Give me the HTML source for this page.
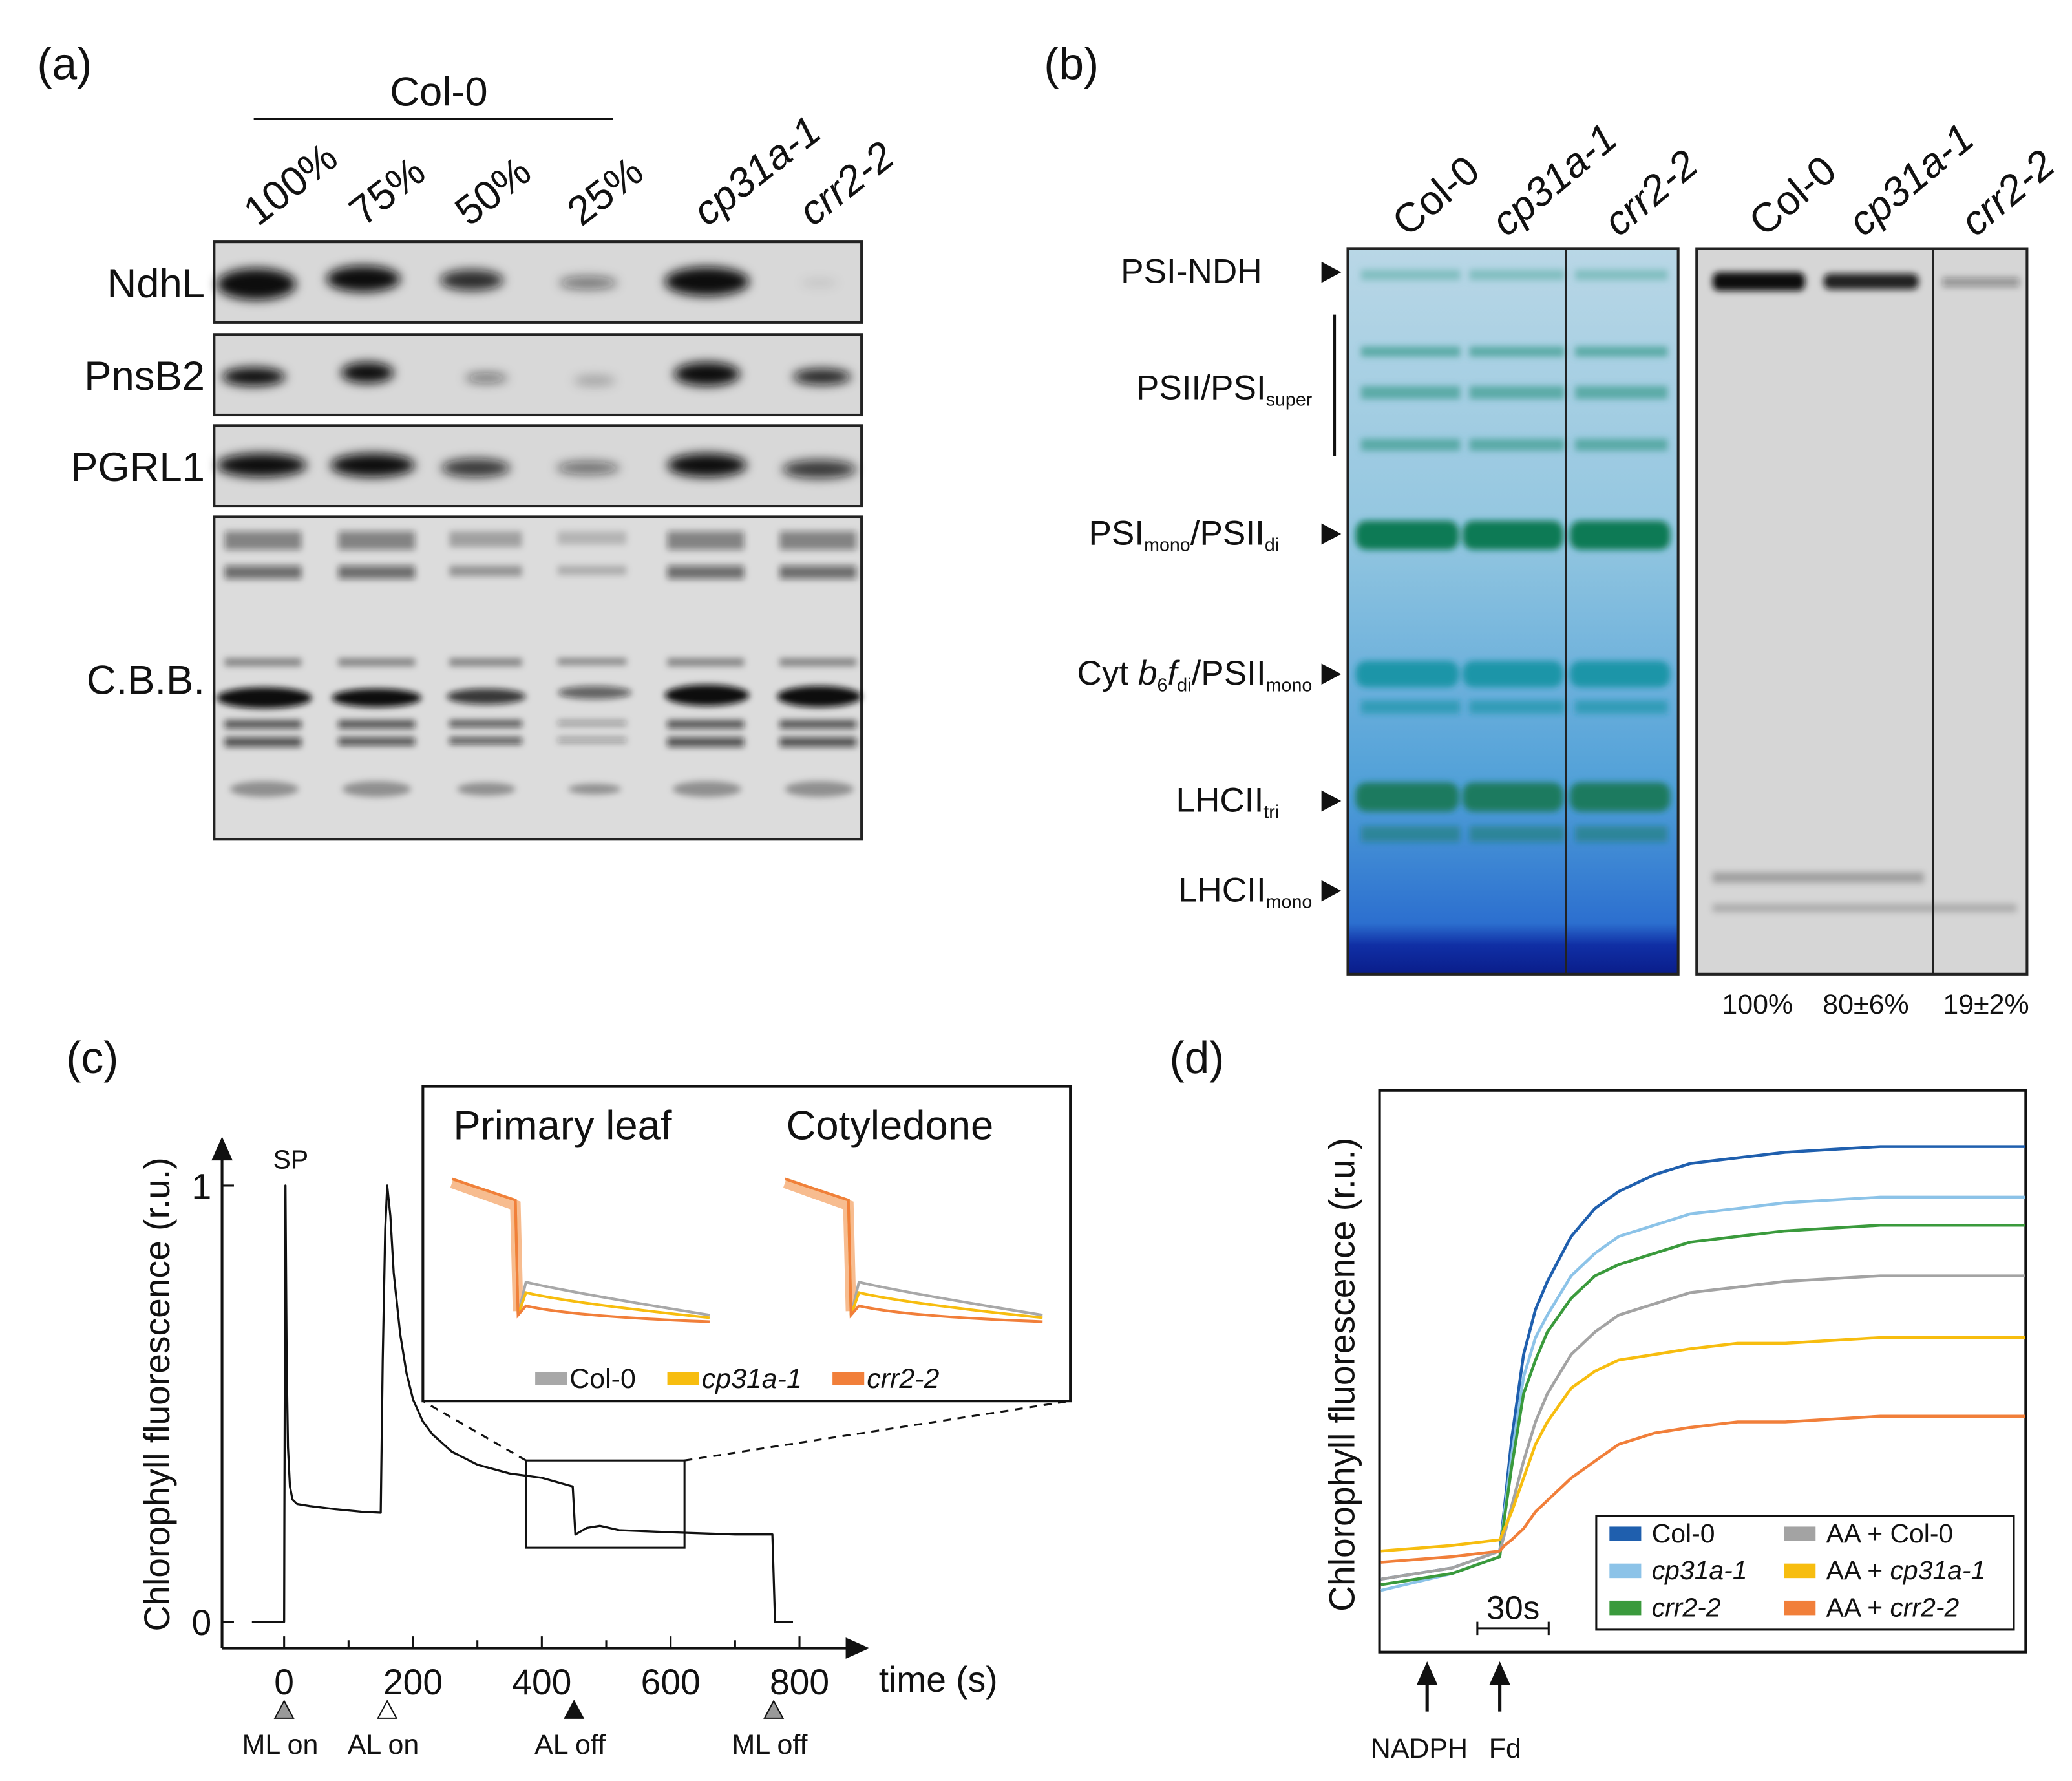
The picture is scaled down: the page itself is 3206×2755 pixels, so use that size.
<!DOCTYPE html>
<html><head><meta charset="utf-8"><style>
html,body{margin:0;padding:0;background:#fff}
svg{display:block}
text{font-family:"Liberation Sans",sans-serif;fill:#111}
</style></head><body>
<svg width="3206" height="2755" viewBox="0 0 1568 1347.5" xmlns="http://www.w3.org/2000/svg">
<defs>
<filter id="bl" x="-50%" y="-100%" width="200%" height="300%"><feGaussianBlur stdDeviation="4"/></filter>
<filter id="bl2" x="-50%" y="-100%" width="200%" height="300%"><feGaussianBlur stdDeviation="2.5"/></filter>
<linearGradient id="gelg" x1="0" y1="0" x2="0" y2="1">
<stop offset="0" stop-color="#b9d7e6"/><stop offset="0.4" stop-color="#92c6e0"/><stop offset="0.75" stop-color="#4f9fd8"/><stop offset="0.93" stop-color="#2c6fcf"/><stop offset="0.96" stop-color="#102fa5"/><stop offset="1" stop-color="#0a1d8a"/></linearGradient>
</defs>

<g>
<text x="28" y="60" font-size="34">(a)</text>
<text x="295" y="80" font-size="31">Col-0</text>
<line x1="192" y1="90" x2="464" y2="90" stroke="#111" stroke-width="1.5"/>
<g font-size="31">
<text transform="translate(195,172) rotate(-38)">100%</text>
<text transform="translate(275,172) rotate(-38)">75%</text>
<text transform="translate(355,172) rotate(-38)">50%</text>
<text transform="translate(440,172) rotate(-38)">25%</text>
<text transform="translate(535,172) rotate(-38)" font-style="italic">cp31a-1</text>
<text transform="translate(615,172) rotate(-38)" font-style="italic">crr2-2</text>
</g>
<g font-size="31" text-anchor="end">
<text x="155" y="225">NdhL</text>
<text x="155" y="295">PnsB2</text>
<text x="155" y="364">PGRL1</text>
<text x="155" y="525">C.B.B.</text>
</g>
<g>
<rect x="162" y="183" width="490" height="61" fill="#d8d8d8" stroke="#222" stroke-width="2"/>
<g filter="url(#bl)" fill="#111">
<ellipse cx="194" cy="215" rx="30" ry="12"/><ellipse cx="275" cy="211" rx="28" ry="10"/><ellipse cx="357" cy="212" rx="24" ry="8" opacity="0.85"/><ellipse cx="445" cy="214" rx="22" ry="5" opacity="0.5"/><ellipse cx="535" cy="213" rx="32" ry="11"/><ellipse cx="620" cy="214" rx="14" ry="3" opacity="0.1"/></g></g>
<g>
<rect x="162" y="253" width="490" height="61" fill="#d8d8d8" stroke="#222" stroke-width="2"/>
<g filter="url(#bl)" fill="#111">
<ellipse cx="192" cy="285" rx="24" ry="7"/><ellipse cx="278" cy="282" rx="20" ry="8"/><ellipse cx="368" cy="286" rx="16" ry="4" opacity="0.5"/><ellipse cx="450" cy="288" rx="16" ry="4" opacity="0.25"/><ellipse cx="535" cy="283" rx="25" ry="9"/><ellipse cx="622" cy="285" rx="22" ry="6" opacity="0.9"/></g></g>
<g>
<rect x="162" y="322" width="490" height="61" fill="#d8d8d8" stroke="#222" stroke-width="2"/>
<g filter="url(#bl)" fill="#111">
<ellipse cx="198" cy="352" rx="34" ry="9"/><ellipse cx="282" cy="352" rx="32" ry="9"/><ellipse cx="360" cy="354" rx="26" ry="7" opacity="0.8"/><ellipse cx="445" cy="354" rx="24" ry="5" opacity="0.55"/><ellipse cx="535" cy="352" rx="30" ry="9"/><ellipse cx="620" cy="355" rx="28" ry="7" opacity="0.8"/></g></g>
<g>
<rect x="162" y="391" width="490" height="244" fill="#dcdcdc" stroke="#222" stroke-width="2"/>
<g filter="url(#bl2)" fill="#111">
<g opacity="0.45"><rect x="170" y="402" width="58" height="14"/><rect x="256" y="402" width="58" height="14"/><rect x="340" y="402" width="55" height="12" opacity="0.6"/><rect x="422" y="402" width="52" height="10" opacity="0.4"/><rect x="505" y="402" width="58" height="14"/><rect x="590" y="402" width="58" height="14"/></g>
<g opacity="0.55"><rect x="170" y="428" width="58" height="10"/><rect x="256" y="428" width="58" height="10"/><rect x="340" y="428" width="55" height="8" opacity="0.6"/><rect x="422" y="428" width="52" height="7" opacity="0.4"/><rect x="505" y="428" width="58" height="10"/><rect x="590" y="428" width="58" height="10"/></g>
<g opacity="0.4"><rect x="170" y="498" width="58" height="6"/><rect x="256" y="498" width="58" height="6"/><rect x="340" y="498" width="55" height="6"/><rect x="422" y="498" width="52" height="5"/><rect x="505" y="498" width="58" height="6"/><rect x="590" y="498" width="58" height="6"/></g>
<g><ellipse cx="200" cy="528" rx="36" ry="8"/><ellipse cx="285" cy="528" rx="34" ry="7"/><ellipse cx="368" cy="527" rx="30" ry="6" opacity="0.8"/><ellipse cx="450" cy="524" rx="28" ry="5" opacity="0.6"/><ellipse cx="535" cy="526" rx="32" ry="8"/><ellipse cx="620" cy="527" rx="32" ry="8"/></g>
<g opacity="0.7"><rect x="170" y="545" width="58" height="6"/><rect x="256" y="545" width="58" height="6"/><rect x="340" y="545" width="55" height="5"/><rect x="422" y="545" width="52" height="4" opacity="0.5"/><rect x="505" y="545" width="58" height="6"/><rect x="590" y="545" width="58" height="6"/>
<rect x="170" y="558" width="58" height="7"/><rect x="256" y="558" width="58" height="6"/><rect x="340" y="558" width="55" height="5"/><rect x="422" y="558" width="52" height="4" opacity="0.5"/><rect x="505" y="558" width="58" height="7"/><rect x="590" y="558" width="58" height="7"/></g>
<g opacity="0.35"><ellipse cx="200" cy="597" rx="26" ry="6"/><ellipse cx="285" cy="597" rx="26" ry="6"/><ellipse cx="368" cy="597" rx="22" ry="5"/><ellipse cx="450" cy="597" rx="20" ry="4"/><ellipse cx="535" cy="597" rx="26" ry="6"/><ellipse cx="620" cy="597" rx="26" ry="6"/></g>
</g></g>
</g>

<g>
<text x="790" y="60" font-size="34">(b)</text>
<g font-size="31">
<text transform="translate(1065,180) rotate(-40)">Col-0</text>
<text transform="translate(1140,180) rotate(-40)" font-style="italic">cp31a-1</text>
<text transform="translate(1225,180) rotate(-40)" font-style="italic">crr2-2</text>
<text transform="translate(1335,180) rotate(-40)">Col-0</text>
<text transform="translate(1410,180) rotate(-40)" font-style="italic">cp31a-1</text>
<text transform="translate(1495,180) rotate(-40)" font-style="italic">crr2-2</text>
</g>
<g font-size="26" text-anchor="end">
<text x="955" y="214">PSI-NDH</text>
<text x="993" y="302">PSII/PSI<tspan font-size="14" dy="5">super</tspan></text>
<text x="968" y="412">PSI<tspan font-size="14" dy="5">mono</tspan><tspan dy="-5">/PSII</tspan><tspan font-size="14" dy="5">di</tspan></text>
<text x="993" y="518">Cyt <tspan font-style="italic">b</tspan><tspan font-size="14" dy="5">6</tspan><tspan dy="-5" font-style="italic">f</tspan><tspan font-size="14" dy="5">di</tspan><tspan dy="-5">/PSII</tspan><tspan font-size="14" dy="5">mono</tspan></text>
<text x="968" y="614">LHCII<tspan font-size="14" dy="5">tri</tspan></text>
<text x="993" y="682">LHCII<tspan font-size="14" dy="5">mono</tspan></text>
</g>
<line x1="1010" y1="238" x2="1010" y2="345" stroke="#111" stroke-width="2"/>
<g fill="#111"><path d="M1000,198 l15,8 l-15,8z"/><path d="M1000,396 l15,8 l-15,8z"/><path d="M1000,502 l15,8 l-15,8z"/><path d="M1000,598 l15,8 l-15,8z"/><path d="M1000,666 l15,8 l-15,8z"/></g>
<g>
<rect x="1020" y="188" width="250" height="549" fill="url(#gelg)"/>
<g filter="url(#bl2)">
<g fill="#5fb0a8" opacity="0.6"><rect x="1030" y="204" width="75" height="8"/><rect x="1112" y="204" width="72" height="8"/><rect x="1192" y="204" width="70" height="8"/></g>
<g fill="#3e9c8e" opacity="0.7">
<rect x="1030" y="262" width="75" height="8"/><rect x="1112" y="262" width="72" height="8"/><rect x="1192" y="262" width="70" height="8"/>
<rect x="1030" y="292" width="75" height="10"/><rect x="1112" y="292" width="72" height="10"/><rect x="1192" y="292" width="70" height="10"/>
<rect x="1030" y="332" width="75" height="9"/><rect x="1112" y="332" width="72" height="9"/><rect x="1192" y="332" width="70" height="9"/></g>
<g fill="#0a7a55"><rect x="1026" y="394" width="78" height="22" rx="8"/><rect x="1107" y="394" width="76" height="22" rx="8"/><rect x="1188" y="394" width="76" height="22" rx="8"/></g>
<g fill="#1a95a8"><rect x="1026" y="500" width="78" height="20" rx="8"/><rect x="1107" y="500" width="76" height="20" rx="8"/><rect x="1188" y="500" width="76" height="20" rx="8"/>
<rect x="1030" y="530" width="75" height="10" opacity="0.7"/><rect x="1112" y="530" width="72" height="10" opacity="0.7"/><rect x="1192" y="530" width="70" height="10" opacity="0.7"/></g>
<g fill="#1a7a5e"><rect x="1026" y="592" width="78" height="22" rx="8"/><rect x="1107" y="592" width="76" height="22" rx="8"/><rect x="1188" y="592" width="76" height="22" rx="8"/>
<rect x="1030" y="625" width="75" height="12" opacity="0.5"/><rect x="1112" y="625" width="72" height="12" opacity="0.5"/><rect x="1192" y="625" width="70" height="12" opacity="0.5"/></g>
</g>
<rect x="1020" y="188" width="250" height="549" fill="none" stroke="#222" stroke-width="2"/>
<line x1="1185" y1="188" x2="1185" y2="737" stroke="#222" stroke-width="1.5"/>
</g>
<g>
<rect x="1284" y="188" width="250" height="549" fill="#d6d6d6"/>
<g filter="url(#bl2)" fill="#111"><rect x="1296" y="206" width="70" height="14" rx="5"/><rect x="1380" y="207" width="72" height="12" rx="5" opacity="0.9"/><rect x="1470" y="210" width="58" height="7" opacity="0.35"/>
<rect x="1296" y="660" width="160" height="8" opacity="0.25"/><rect x="1296" y="684" width="230" height="6" opacity="0.2"/></g>
<rect x="1284" y="188" width="250" height="549" fill="none" stroke="#222" stroke-width="2"/>
<line x1="1463" y1="188" x2="1463" y2="737" stroke="#222" stroke-width="1.5"/>
</g>
<g font-size="21" text-anchor="middle">
<text x="1330" y="767">100%</text><text x="1412" y="767">80±6%</text><text x="1503" y="767">19±2%</text></g>
</g>

<g>
<text x="50" y="812" font-size="34">(c)</text>
<g id="chartC"></g>
</g>

<g>
<text x="885" y="812" font-size="34">(d)</text>
<g id="chartD"></g>
</g>
</svg>
<script>
// ---- Panel c data ----
const cTimes = [-50,0,0.5,2,4,6,9,13,20,40,80,120,150,153,157,160,165,170,180,190,200,215,230,260,300,350,400,448,452,470,490,520,600,700,758,762,790];
const cValues = [0,0,0.25,1,0.6,0.4,0.31,0.28,0.27,0.265,0.258,0.252,0.25,0.6,0.9,1,0.93,0.8,0.66,0.57,0.51,0.46,0.43,0.39,0.36,0.34,0.33,0.31,0.2,0.215,0.22,0.21,0.205,0.2,0.2,0,0];
const cTicks = [0,200,400,600,800];
const cYTicks = [0,1];
// ---- Panel d data ----
const dTimes = [-50,-20,0,2,5,10,15,20,30,40,50,65,80,100,120,160,221];
const dSeries = ["Col-0","cp31a-1","crr2-2","AA + Col-0","AA + cp31a-1","AA + crr2-2"];
const dColors = ["#1f5fae","#8cc3e8","#3a9a3c","#a3a3a3","#f7bd0f","#f17f3a"];
const dCol0 = [0.13,0.15,0.18,0.26,0.38,0.53,0.61,0.66,0.74,0.79,0.82,0.85,0.87,0.88,0.89,0.9,0.9];
const dCp31a = [0.11,0.14,0.17,0.25,0.35,0.49,0.56,0.6,0.67,0.71,0.74,0.76,0.78,0.79,0.8,0.81,0.81];
const dCrr2 = [0.12,0.14,0.17,0.24,0.33,0.46,0.52,0.57,0.63,0.67,0.69,0.71,0.73,0.74,0.75,0.76,0.76];
const dAACol = [0.13,0.15,0.18,0.21,0.26,0.34,0.41,0.46,0.53,0.57,0.6,0.62,0.64,0.65,0.66,0.67,0.67];
const dAACp = [0.18,0.19,0.2,0.22,0.25,0.31,0.37,0.41,0.47,0.5,0.52,0.53,0.54,0.55,0.55,0.56,0.56];
const dAACrr = [0.16,0.17,0.18,0.19,0.2,0.22,0.25,0.27,0.31,0.34,0.37,0.39,0.4,0.41,0.41,0.42,0.42];
const dValues = [dCol0,dCp31a,dCrr2,dAACol,dAACp,dAACrr];

const NS="http://www.w3.org/2000/svg";
function mk(parent,tag,attrs){const e=document.createElementNS(NS,tag);for(const k in attrs)e.setAttribute(k,attrs[k]);parent.appendChild(e);return e;}

(function(){
const g=document.getElementById('chartC');
const xs=t=>215+t*(605-215)/800;
const ys=v=>1227-v*(1227-897);
let d='';cTimes.forEach((t,i)=>{d+=(i?'L':'M')+xs(t).toFixed(1)+','+ys(cValues[i]).toFixed(1);});
const ln=mk(g,'path',{d:d,fill:'none',stroke:'#111','stroke-width':1.6,'stroke-linejoin':'round'});


const ax=mk(g,'path',{d:'M168,1247 L645,1247 M168,1247 L168,872',stroke:'#111','stroke-width':2,fill:'none'});


mk(g,'path',{d:'M640,1239 L658,1247 L640,1255Z M160,878 L168,860 L176,878Z',fill:'#111'});
cTicks.forEach(t=>{mk(g,'line',{x1:xs(t),y1:1247,x2:xs(t),y2:1238,stroke:'#111','stroke-width':1.5});
const tx=mk(g,'text',{x:xs(t),y:1282,'font-size':27,'text-anchor':'middle'});tx.textContent=t;

});
[100,300,500,700].forEach(t=>mk(g,'line',{x1:xs(t),y1:1247,x2:xs(t),y2:1241,stroke:'#111','stroke-width':1.5}));
cYTicks.forEach(v=>{mk(g,'line',{x1:168,y1:ys(v),x2:177,y2:ys(v),stroke:'#111','stroke-width':1.5});
const tx=mk(g,'text',{x:160,y:ys(v)+10,'font-size':27,'text-anchor':'end'});tx.textContent=v;

});
const yt=mk(g,'text',{transform:'translate(128,1055) rotate(-90)','font-size':27,'text-anchor':'middle'});yt.textContent='Chlorophyll fluorescence (r.u.)';


const xt=mk(g,'text',{x:665,y:1280,'font-size':27});xt.textContent='time (s)';


const sp=mk(g,'text',{x:220,y:884,'font-size':20,'text-anchor':'middle'});sp.textContent='SP';
[[0,'ML on','#999'],[160,'AL on','#fff'],[450,'AL off','#111'],[760,'ML off','#999']].forEach(m=>{
const x=xs(m[0]);mk(g,'path',{d:`M${x-7},1300 L${x},1287 L${x+7},1300Z`,fill:m[2],stroke:'#111','stroke-width':1});
const tx=mk(g,'text',{x:x-3,y:1327,'font-size':21,'text-anchor':'middle'});tx.textContent=m[1];

});
mk(g,'rect',{x:398,y:1105,width:120,height:66,fill:'none',stroke:'#111','stroke-width':1.5});
mk(g,'path',{d:'M398,1105 L320,1060 M518,1105 L810,1060',stroke:'#111','stroke-width':1.5,'stroke-dasharray':'6,5',fill:'none'});
const ins=mk(g,'rect',{x:320,y:822,width:490,height:238,fill:'#fff',stroke:'#111','stroke-width':2});


let t1=mk(g,'text',{x:343,y:862,'font-size':31});t1.textContent='Primary leaf';
let t2=mk(g,'text',{x:595,y:862,'font-size':31});t2.textContent='Cotyledone';
function inset(x0){
const cols=['#a8a8a8','#f7bd0f','#f17f3a'];const lv=[[970,995],[978,997],[988,1000]];
mk(g,'path',{d:`M${x0},895 L${x0+48},912 L${x0+50},992`,stroke:'#f4a060','stroke-width':8,fill:'none',opacity:0.7});
cols.forEach((c,i)=>{mk(g,'path',{d:`M${x0},892 L${x0+48},908 L${x0+50},995 L${x0+56},${lv[i][0]} Q${x0+90},${lv[i][0]+8} ${x0+195},${lv[i][1]}`,stroke:c,'stroke-width':2,fill:'none'});});
}
inset(342);inset(594);
const leg=[['#a8a8a8','Col-0',405,false],['#f7bd0f','cp31a-1',505,true],['#f17f3a','crr2-2',630,true]];
leg.forEach(l=>{mk(g,'rect',{x:l[2],y:1038,width:24,height:10,fill:l[0]});
const tx=mk(g,'text',{x:l[2]+26,y:1050,'font-size':21,'font-style':l[3]?'italic':'normal'});tx.textContent=l[1];

});
})();

(function(){
const g=document.getElementById('chartD');
const xs=t=>1135+t*1.8;
const ys=v=>1250-v*425;
mk(g,'rect',{x:1044,y:825,width:489,height:425,fill:'none',stroke:'#111','stroke-width':2});
dValues.forEach((arr,si)=>{
let d='';dTimes.forEach((t,i)=>{d+=(i?'L':'M')+xs(t).toFixed(1)+','+ys(arr[i]).toFixed(1);});
const p=mk(g,'path',{d:d,fill:'none',stroke:dColors[si],'stroke-width':2.2,'stroke-linejoin':'round'});

});
const yt=mk(g,'text',{transform:'translate(1025,1040) rotate(-90)','font-size':27,'text-anchor':'middle'});yt.textContent='Chlorophyll fluorescence (r.u.)';


mk(g,'path',{d:'M1118,1232 L1172,1232 M1118,1227 L1118,1237 M1172,1227 L1172,1237',stroke:'#111','stroke-width':1.5,fill:'none'});
const sb=mk(g,'text',{x:1145,y:1225,'font-size':25,'text-anchor':'middle'});sb.textContent='30s';


[[1080,'NADPH'],[1135,'Fd']].forEach(a=>{mk(g,'path',{d:`M${a[0]},1295 L${a[0]},1270`,stroke:'#111','stroke-width':2.5});
mk(g,'path',{d:`M${a[0]-8},1275 L${a[0]},1257 L${a[0]+8},1275Z`,fill:'#111'});
const tx=mk(g,'text',{x:a[0]-6+(a[1]=='Fd'?10:0),y:1330,'font-size':21,'text-anchor':'middle'});tx.textContent=a[1];

});
const lg=mk(g,'rect',{x:1208,y:1147,width:316,height:86,fill:'#fff',stroke:'#111','stroke-width':1.5});


dSeries.forEach((s,i)=>{const col=i<3?0:1;const row=i%3;const x=1218+col*132;const y=1162+row*28;
mk(g,'rect',{x:x,y:y-7,width:24,height:11,fill:dColors[i]});
const tx=mk(g,'text',{x:x+32,y:y+5,'font-size':20,'font-style':(i==1||i==2)?'italic':'normal'});
if(i<3)tx.textContent=s;else{tx.textContent='AA + ';const ts=mk(tx,'tspan',{'font-style':i==3?'normal':'italic'});ts.textContent=s.slice(5);}

});
})();
</script>
</body></html>
